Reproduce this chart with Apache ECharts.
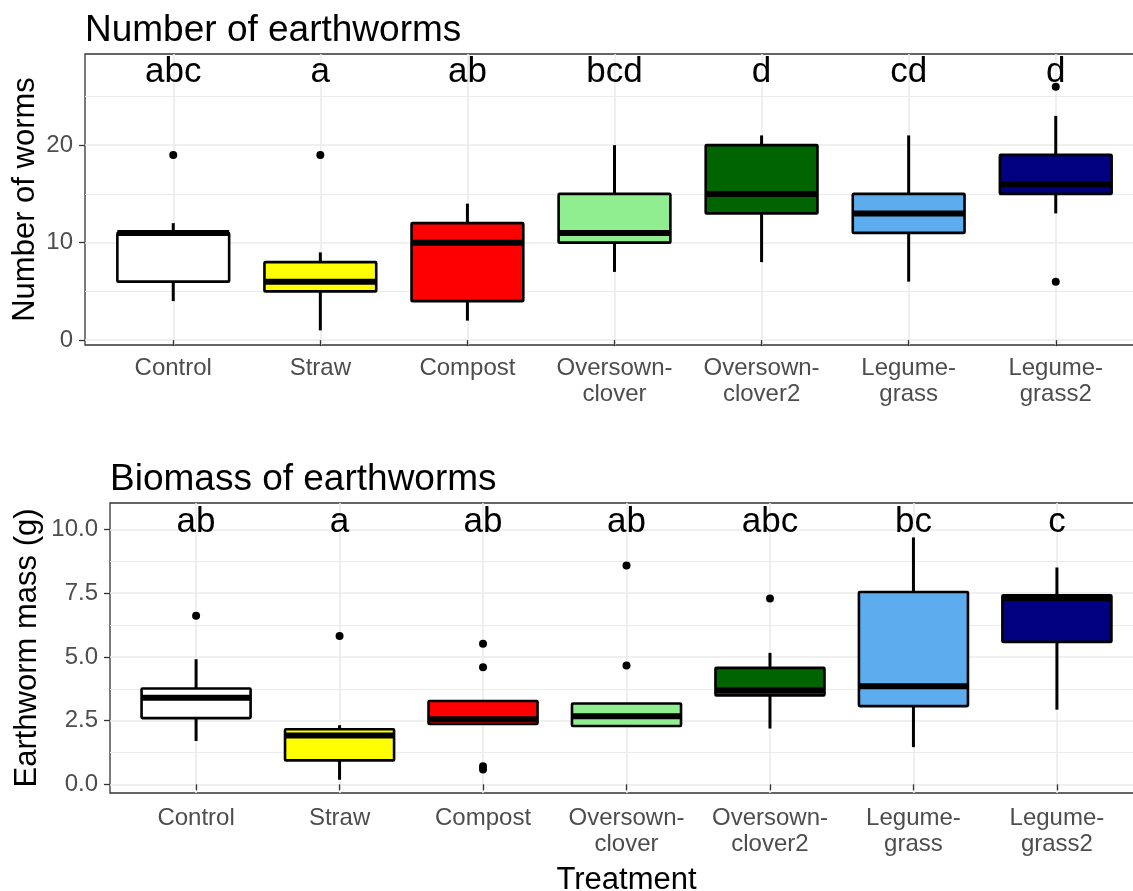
<!DOCTYPE html>
<html>
<head>
<meta charset="utf-8">
<title>Earthworms by treatment</title>
<script src="https://cdn.jsdelivr.net/npm/echarts@6/dist/echarts.min.js"></script>
<style>
  html, body { margin: 0; padding: 0; background: #ffffff; overflow: hidden; }
  #chart { width: 1145px; height: 891px; }
</style>
</head>
<body>
<div id="chart"></div>
<script>
// Treatments (x categories); "\n" splits long names over two lines
const treatments = ['Control', 'Straw', 'Compost', 'Oversown-\nclover', 'Oversown-\nclover2', 'Legume-\ngrass', 'Legume-\ngrass2'];

// Number of earthworms: [lower whisker, Q1, median, Q3, upper whisker]
const wormStats = [
  [4, 6, 11, 11, 12],
  [1, 5, 6, 8, 9],
  [2, 4, 10, 12, 14],
  [7, 10, 11, 15, 20],
  [8, 13, 15, 20, 21],
  [6, 11, 13, 15, 21],
  [13, 15, 16, 19, 23]
];
// Outliers: [treatment index, value]
const wormOutliers = [[0, 19], [1, 19], [6, 26], [6, 6]];
const wormLetters = ['abc', 'a', 'ab', 'bcd', 'd', 'cd', 'd'];
const wormTicks = [0, 10, 20];
const wormMinorTicks = [5, 15, 25];

// Biomass of earthworms (g): [lower whisker, Q1, median, Q3, upper whisker]
const massStats = [
  [1.70, 2.60, 3.40, 3.76, 4.91],
  [0.18, 0.94, 1.92, 2.16, 2.32],
  [2.37, 2.37, 2.55, 3.27, 3.27],
  [2.29, 2.29, 2.67, 3.17, 3.17],
  [2.19, 3.49, 3.69, 4.57, 5.16],
  [1.46, 3.07, 3.85, 7.55, 9.69],
  [2.93, 5.59, 7.30, 7.42, 8.51]
];
const massOutliers = [[0, 6.62], [1, 5.82], [2, 5.52], [2, 4.59], [2, 0.71], [2, 0.58], [3, 8.59], [3, 4.66], [4, 7.29]];
const massLetters = ['ab', 'a', 'ab', 'ab', 'abc', 'bc', 'c'];
const massTicks = [0, 2.5, 5, 7.5, 10];
const massMinorTicks = [1.25, 3.75, 6.25, 8.75];

// Fill colour of each treatment's box
const fills = ['#ffffff', '#ffff00', '#ff0000', '#90ee90', '#006400', '#5cacee', '#000080'];

// Height (in data units) where the group letters sit
const WORM_LETTER_Y = 27.5;
const MASS_LETTER_Y = 10.3;

const FONT = "'Liberation Sans', Arial, sans-serif";
const BOX_FRAC = 0.76;
const positions = treatments.map((_, i) => i + 1);

function boxRender(params, api) {
  const x = api.value(0);
  const pLo = api.coord([x, api.value(1)]);
  const pQ1 = api.coord([x, api.value(2)]);
  const pMed = api.coord([x, api.value(3)]);
  const pQ3 = api.coord([x, api.value(4)]);
  const pHi = api.coord([x, api.value(5)]);
  const bw = api.size([1, 0])[0] * BOX_FRAC;
  const cx = pMed[0];
  const stroke = { stroke: '#000000', lineWidth: 3 };
  return {
    type: 'group',
    children: [
      { type: 'line', shape: { x1: cx, y1: pHi[1], x2: cx, y2: pQ3[1] }, style: stroke },
      { type: 'line', shape: { x1: cx, y1: pQ1[1], x2: cx, y2: pLo[1] }, style: stroke },
      { type: 'rect', shape: { x: cx - bw / 2, y: pQ3[1], width: bw, height: pQ1[1] - pQ3[1], r: 1 },
        style: { fill: fills[params.dataIndex], stroke: '#000000', lineWidth: 2.6 } },
      { type: 'line', shape: { x1: cx - bw / 2, y1: pMed[1], x2: cx + bw / 2, y2: pMed[1] },
        style: { stroke: '#000000', lineWidth: 6 } }
    ]
  };
}

function letterRender(letters) {
  return function (params, api) {
    const p = api.coord([api.value(0), api.value(1)]);
    return {
      type: 'text', x: p[0], y: p[1],
      style: { text: letters[params.dataIndex], fontSize: 35, fontFamily: FONT, fill: '#000000',
               align: 'center', verticalAlign: 'middle' }
    };
  };
}

function xAxisFor(gridIndex, labelMargin) {
  return {
    type: 'value', gridIndex: gridIndex, min: 0.4, max: 7.6,
    axisLine: { show: false },
    axisTick: { show: true, customValues: positions, length: 6, lineStyle: { color: '#333333', width: 1.3 } },
    axisLabel: { customValues: positions, formatter: v => treatments[Math.round(v) - 1],
                 color: '#4d4d4d', fontSize: 24, fontFamily: FONT, margin: labelMargin, lineHeight: 26 },
    splitLine: { show: true, lineStyle: { color: '#ebebeb', width: 1.6 } }
  };
}

function yAxisFor(gridIndex, min, max, ticks, fmt, name, nameGap) {
  return {
    type: 'value', gridIndex: gridIndex, min: min, max: max,
    name: name, nameLocation: 'middle', nameGap: nameGap, nameMoveOverlap: false,
    nameTextStyle: { fontSize: 31, fontFamily: FONT, color: '#000000' },
    axisLine: { show: false },
    axisTick: { show: true, customValues: ticks, length: 6, lineStyle: { color: '#333333', width: 1.3 } },
    axisLabel: { customValues: ticks, formatter: fmt, color: '#4d4d4d', fontSize: 24, fontFamily: FONT, margin: 12 },
    splitLine: { show: true, lineStyle: { color: '#ebebeb', width: 1.6 } }
  };
}

// Hidden companion axis that only draws the thinner minor grid lines
function minorAxisFor(gridIndex, min, max, ticks) {
  return {
    type: 'value', gridIndex: gridIndex, min: min, max: max, position: 'left',
    axisLine: { show: false },
    axisTick: { show: false, customValues: ticks },
    axisLabel: { show: false, customValues: ticks },
    splitLine: { show: true, lineStyle: { color: '#ebebeb', width: 1 } }
  };
}

const chart = echarts.init(document.getElementById('chart'), null, { renderer: 'canvas' });

chart.setOption({
  animation: false,
  backgroundColor: '#ffffff',
  title: [
    { text: 'Number of earthworms', left: 80, top: 7,
      textStyle: { fontSize: 37, fontWeight: 'normal', fontFamily: FONT, color: '#000000' } },
    { text: 'Biomass of earthworms', left: 105, top: 456,
      textStyle: { fontSize: 37, fontWeight: 'normal', fontFamily: FONT, color: '#000000' } }
  ],
  grid: [
    { left: 85, right: 1, top: 54, bottom: 546, show: true, backgroundColor: '#ffffff',
      borderColor: '#333333', borderWidth: 1.3, containLabel: false, outerBoundsMode: 'none' },
    { left: 110, right: 2, top: 503, bottom: 98, show: true, backgroundColor: '#ffffff',
      borderColor: '#333333', borderWidth: 1.3, containLabel: false, outerBoundsMode: 'none' }
  ],
  xAxis: [
    xAxisFor(0, 10),
    Object.assign(xAxisFor(1, 12), { name: 'Treatment', nameLocation: 'middle', nameGap: 72,
      nameTextStyle: { fontSize: 31, fontFamily: FONT, color: '#000000' } })
  ],
  yAxis: [
    yAxisFor(0, -0.5, 29.35, wormTicks, v => String(v), 'Number of worms', 44),
    yAxisFor(1, -0.34, 11.04, massTicks, v => v.toFixed(1), 'Earthworm mass (g)', 67),
    minorAxisFor(0, -0.5, 29.35, wormMinorTicks),
    minorAxisFor(1, -0.34, 11.04, massMinorTicks)
  ],
  series: [
    { type: 'custom', name: 'worms', xAxisIndex: 0, yAxisIndex: 0, renderItem: boxRender,
      encode: { x: 0, y: [1, 2, 3, 4, 5] },
      data: wormStats.map((s, i) => [positions[i]].concat(s)) },
    { type: 'scatter', xAxisIndex: 0, yAxisIndex: 0, symbolSize: 8, itemStyle: { color: '#000000', opacity: 1 },
      data: wormOutliers.map(o => [positions[o[0]], o[1]]), z: 3 },
    { type: 'custom', xAxisIndex: 0, yAxisIndex: 0, renderItem: letterRender(wormLetters),
      encode: { x: 0, y: 1 }, data: wormLetters.map((_, i) => [positions[i], WORM_LETTER_Y]), z: 4 },

    { type: 'custom', name: 'mass', xAxisIndex: 1, yAxisIndex: 1, renderItem: boxRender,
      encode: { x: 0, y: [1, 2, 3, 4, 5] },
      data: massStats.map((s, i) => [positions[i]].concat(s)) },
    { type: 'scatter', xAxisIndex: 1, yAxisIndex: 1, symbolSize: 8, itemStyle: { color: '#000000', opacity: 1 },
      data: massOutliers.map(o => [positions[o[0]], o[1]]), z: 3 },
    { type: 'custom', xAxisIndex: 1, yAxisIndex: 1, renderItem: letterRender(massLetters),
      encode: { x: 0, y: 1 }, data: massLetters.map((_, i) => [positions[i], MASS_LETTER_Y]), z: 4 }
  ]
});
</script>
</body>
</html>
